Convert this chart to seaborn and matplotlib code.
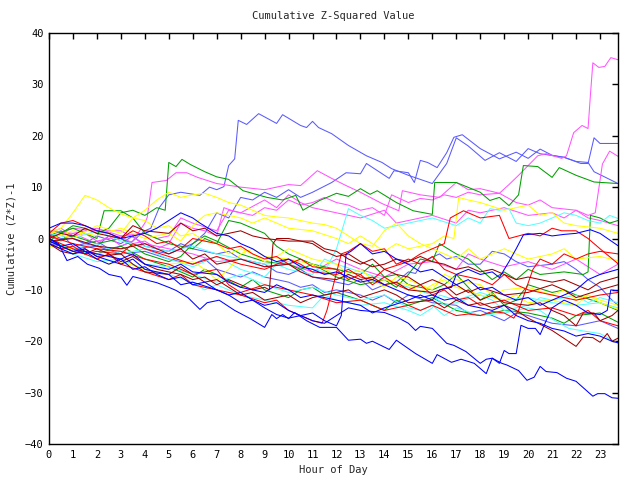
import matplotlib
matplotlib.use("Agg")
import matplotlib.pyplot as plt
import seaborn as sns
import pandas as pd

# ---- data: each series is a list of (hour, cumulative value) points ----
L1 = [(0,0),(0.5,1),(1,-1.5),(1.5,-1),(2,-0.5),(2.5,-2),(3,-1.5),(3.5,-0.5),(4,1.5),(4.25,2),(4.6,6),(5,8.5),(5.5,9),(6.3,8.4),(6.7,10),(7,9.5),(7.3,10.1),(7.5,14.2),(7.75,15.5),(7.9,23),(8.25,22.2),(8.75,24.3),(9.5,22.4),(9.75,24.1),(10.5,22),(10.75,21.6),(11,22.8),(11.25,21.6),(11.8,20.4),(12.5,18.1),(13.25,16.1),(13.9,14.8),(14.3,13.6),(15,12.3),(16,10.7),(16.6,14.6),(17,19.6),(17.5,18),(18.2,15.2),(18.8,16.7),(19.5,15),(20,17.5),(20.5,16.5),(21.5,15.8),(22,15),(22.5,14.8),(22.75,13),(23.75,10.7)]
L2 = [(0,1),(0.5,0),(1,0),(1.5,-1),(2,-1.5),(2.5,0.5),(3,0),(3.5,-1),(4,-2),(5,-3),(5.5,-2),(6,-1),(6.5,1),(7,5),(7.5,4),(8,8),(8.5,7.5),(9,9),(9.5,8),(10,9.5),(10.5,8),(11,9),(11.8,10.9),(12.4,12.8),(13,12.6),(13.25,14.6),(14.2,11.7),(14.4,13.2),(15,12.8),(15.25,10.9),(15.5,15.2),(15.8,14.8),(16.2,13.8),(16.6,16.7),(16.9,19.7),(17.25,20.2),(18,17.5),(18.8,15.5),(19.5,16.8),(20,15.6),(20.5,17.4),(21,16.2),(21.5,15.8),(22.2,14.6),(22.5,14.6),(22.75,19.6),(23,18.5),(23.75,18.5)]
L3 = [(0,0.5),(0.5,1.5),(1,0),(1.5,-1),(2,0.5),(3,-1),(3.5,0.5),(4,-1.5),(5,-2.5),(5.5,-1),(6,-2),(7,-3),(7.5,-2.5),(8,-4),(9,-5),(9.5,-6.5),(10,-7),(10.5,-6),(11,-7.5),(12,-8.5),(12.5,-9),(13,-8),(13.5,-10),(14,-9),(14.5,-8.5),(15,-6.5),(15.3,-6.8),(15.6,-4.5),(16.3,-3),(16.6,-4),(17,-3.5),(17.5,-5),(18,-5),(18.5,-2.5),(19,-3),(19.5,-4.5),(20,-5.5),(21,-5),(21.5,-4.5),(22,-6),(22.5,-8),(23,-9.5),(23.5,-12),(23.75,-13)]
L4 = [(0,-1),(1,-2),(2,-1.5),(3,-3),(4,-2.5),(5,-4),(6,-5),(6.5,-4),(7,-6),(8,-7.5),(8.5,-6.5),(9,-7.5),(10,-8.5),(10.5,-9.5),(11,-9),(11.5,-10.5),(12,-10),(13,-11),(13.5,-12),(14,-11),(14.5,-12.5),(15,-11),(16,-12.5),(17,-13),(17.5,-14.5),(18,-14),(18.5,-15),(19,-16),(19.5,-14.5),(20,-15),(21,-16.5),(22,-17),(23,-16),(23.75,-17.5)]

M1 = [(0,1),(0.5,2),(1,0.5),(1.5,1),(2,-0.5),(3,0.5),(3.5,-1),(4,-0.5),(4.5,-2),(5,-1),(5.5,3),(6,2),(6.5,1.5),(7,0.5),(7.3,6),(7.6,5.5),(8,5),(8.5,4.5),(9,6),(9.5,5.5),(10,7.5),(10.5,6.5),(11,7),(11.5,8),(12,7),(12.5,6.5),(13,5.5),(13.5,6),(14,4.5),(14.3,8.5),(15,7),(15.5,7.8),(16,7.5),(16.5,8.5),(17,8),(17.5,9),(18,8.5),(18.8,8.8),(19.2,10.5),(19.6,12.3),(20,14.2),(20.4,16.1),(20.75,16.5),(21.4,15.6),(21.6,16.1),(21.9,20.6),(22.25,22),(22.5,21.4),(22.6,28),(22.7,34.2),(22.95,33.3),(23.2,33.5),(23.45,35.2),(23.75,34.8)]
M2 = [(0,1.5),(1,1),(2,2),(3,0.5),(4,1),(4.5,0),(5,0.5),(5.5,4),(6,3),(7,1.5),(7.5,5.5),(8,5),(9,7.5),(9.5,6),(10,8.5),(10.5,7),(11,6),(12,5),(13,4),(14,5.5),(14.5,3),(15,3.5),(16,4.5),(17,3),(17.5,5.5),(18,5),(19,6),(20,4.5),(21,5),(21.5,4),(22,5.5),(22.5,4.5),(22.8,5),(23.1,14.5),(23.4,17),(23.75,16)]
M3 = [(0,0.5),(0.5,-0.5),(1,1),(1.5,0),(2,-1),(2.5,0.5),(3,-1.5),(3.5,-0.5),(4,3),(4.1,4.1),(4.3,10.9),(4.9,11.3),(5.3,12.8),(5.75,12.8),(6.2,11.9),(7,10.7),(8,10),(9,9.5),(10,10.5),(10.5,10.3),(11.2,13.2),(11.8,11.7),(12.4,10.3),(13,9),(13.9,6.8),(14.6,5.4),(14.75,9.3),(15.5,8.5),(16.3,8),(17,10.9),(17.5,9.5),(18,9.7),(18.8,8.8),(19.5,7),(20,6.5),(20.5,7.5),(21,6),(22,5.5),(22.5,4),(23,3.5),(23.75,2.5)]
M4 = [(0,0),(1,2),(2,1.5),(3,1.5),(4,-1),(5,-2),(6,-3),(7,-4.5),(8,-4),(9,-5.5),(10,-5),(11,-6.5),(12,-4),(13,-6),(14,-7.5),(15,-5),(16,-4.5),(17,-6),(17.5,-3),(18,-4),(19,-5.5),(20,-4.5),(21,-6),(22,-4),(23,-7),(23.75,-5)]

G1 = [(0,-0.5),(0.5,1),(1,2.5),(1.5,2),(2,1),(2.5,2),(3,5),(3.5,5.5),(4,4.5),(4.5,6),(4.85,5.5),(5,14.8),(5.3,14),(5.55,15.4),(5.9,14.4),(6.5,13),(7,12),(7.5,11.5),(8.1,9.3),(9.1,8),(9.75,7.5),(10.3,8.4),(10.6,5.5),(11.3,7.4),(12,8.8),(12.5,8.2),(13,9.7),(13.4,8.6),(13.7,9.3),(14.5,7),(15.2,5.4),(16,4.7),(16.1,10.9),(17,10.9),(18,9),(18.4,7.4),(18.8,8),(19.2,6.4),(19.6,8.5),(19.8,14.2),(20.4,14),(21,11.9),(21.3,13.8),(22,12.3),(22.75,11),(23.75,10.7)]
G3 = [(0,-1),(1,0.5),(2,-1),(3,0),(4,-3),(5,-4.5),(5.5,-3.5),(6,-1),(6.5,0.5),(7,-0.5),(8,-3),(9,-4.5),(10,-5),(10.5,-6),(11,-5),(12,-7.5),(13,-9),(14,-8),(14.5,-9.5),(15,-7),(15.5,-4),(16,-4.5),(16.3,-1),(17,-3),(17.5,-4),(18,-6),(18.5,-8),(19,-6.5),(19.5,-8),(20,-6),(20.5,-7),(21.5,-6.5),(22.3,-7),(22.5,-6.5),(22.6,4.5),(23,4),(23.4,3),(23.75,3.5)]
G4 = [(0,0),(0.5,-1.5),(1,-2),(2,-3),(3,-1.5),(4,-4),(5,-5.5),(6,-7.5),(6.5,-6),(7,-7),(8,-9.5),(8.5,-8),(9,-10),(10,-11.5),(10.5,-10),(11,-9.5),(11.5,-11),(12,-10.5),(13,-12),(14,-14),(14.5,-12),(15,-13),(16,-11.5),(17,-14),(18,-15),(19,-14),(20,-14.5),(21,-15.5),(21.5,-16.5),(22,-15),(23,-14.5),(23.75,-16.3)]
G5 = [(0,0.5),(1,2),(2,0),(2.3,5.4),(3,5.4),(3.5,4),(4,1),(5,-1),(6,-2),(6.5,0),(7,-1),(7.5,3.5),(8,3),(9,1),(9.5,-1.5),(10,-3),(11,-5),(12,-6),(13,-7),(13.5,-5),(14,-7.5),(14.5,-7),(15,-9),(16,-10),(16.5,-9),(17,-7),(17.5,-9.5),(18,-12),(18.5,-10.5),(19,-13),(19.5,-12),(20,-9),(21,-10.5),(21.5,-10),(22,-11),(23,-12.5),(23.75,-14)]

C1 = [(0,1),(1,0),(2,1.5),(3,-0.5),(4,-1.5),(5,-2.5),(6,-1.5),(7,-3),(8,-4),(9,-5),(10,-4.5),(11,-6),(11.5,-6.5),(12,-2),(12.5,5.8),(13,4.5),(13.5,3.5),(14,2),(14.5,2.5),(15,3),(15.5,3.5),(16,4),(17,2.5),(17.5,4),(18,3),(18.4,5.8),(18.8,5.5),(19.2,5.8),(19.5,3),(20,2.5),(20.5,3),(21,4),(21.5,5),(22,4.5),(22.5,3.5),(23,3),(23.4,4.5),(23.75,3.9)]
C2 = [(0,-0.5),(1,-2),(2,-1),(3,-3),(4,-2),(5,-4),(6,-5.5),(7,-3.5),(8,-6),(9,-7.5),(9.5,-5),(10,-6),(11,-7),(11.5,-4),(12,-5),(13,-6.5),(14,-8),(15,-9.5),(16,-11),(16.5,-13),(17,-12.5),(18,-11),(18.5,-12),(19,-14),(20,-13),(20.5,-11.5),(21,-12),(22,-11),(22.5,-12.5),(23,-11.5),(23.75,-12.5)]
C3 = [(0,0),(1,-2.5),(2,-3),(3,-2),(4,-5),(5,-5.5),(6,-7),(7,-8.5),(8,-7),(9,-9),(10,-10.5),(11,-9.5),(12,-11),(13,-12),(14,-11),(15,-13.5),(15.5,-14),(16,-13),(16.5,-15),(17,-13.5),(18,-15),(19,-14.5),(20,-13.5),(20.5,-14),(21,-15.7),(21.7,-17.5),(22.3,-18),(23,-18.5),(23.75,-20.4)]
C4 = [(0,-1),(1,-3),(2,-4.5),(3,-4),(4,-6),(4.5,-6.5),(5,-7),(6,-8.5),(6.5,-10),(7,-9),(8,-11),(9,-12),(10,-13),(11,-13.5),(11.5,-11),(12,-12),(13,-13),(14,-12.5),(15,-14),(15.5,-15),(16,-13.5),(16.3,-11),(17,-12),(18,-10.5),(19,-12),(20,-11.5),(21,-12.5),(22,-13),(23,-12.5),(23.75,-13.5)]

Y1 = [(0,1),(0.5,2),(1,5),(1.5,8.4),(2,7.5),(2.5,6),(3,4.8),(3.5,4),(4,3.5),(4.5,2),(5,2.5),(5.5,0.5),(6,1),(6.5,-0.5),(7,-1),(7.5,-3),(8,-2),(8.5,-3),(9,-4.5),(9.5,-3.5),(10,-2),(11,-4),(12,-5),(12.5,-7),(13,-6),(13.5,-8),(14,-9.5),(14.5,-7.5),(15,-8),(16,-10),(16.5,-7),(17,-8),(18,-9),(18.5,-11),(19,-10),(20,-9.5),(21,-11),(21.5,-10),(22,-12),(22.5,-11),(23,-12),(23.75,-13)]
Y2 = [(0,0),(1,1.5),(2,0.5),(3,2),(4,0),(5,1),(5.5,-0.5),(6,2.5),(6.5,4.5),(7,5),(8,4),(8.5,3),(9,4),(10,2),(11,1.5),(12,0),(12.5,-1),(13,0.5),(13.5,-1),(14,-2.5),(14.5,-1),(15,-2),(16,-1),(16.5,0.5),(16.9,0),(17.1,8),(17.5,7.5),(18,7),(19,5.5),(20,6.5),(20.5,4.5),(21,5),(21.5,3),(22,2.5),(23,2),(23.75,1)]
Y3 = [(0,1.5),(1,0),(2,2.5),(3,1),(3.5,4),(4,5.5),(4.5,7.5),(5,9),(5.5,8),(6,8.5),(6.5,8.8),(7,8),(7.5,7),(8,6.5),(8.5,5.5),(9,4.5),(9.5,4.2),(10,4),(10.5,3.5),(11,3),(11.5,2.7),(12,2),(12.5,0.5),(13,-1),(13.5,-1.5),(14,1.5),(14.5,3),(15,0.5),(15.5,-1),(16,-2),(16.5,-3),(17,-4),(17.5,-2),(18,-4),(19,-2),(19.5,-3),(20,-4),(21,-3),(21.5,-2),(22,-4),(23,-3.5),(23.75,-4.3)]
Y4 = [(0,-1.5),(1,-2),(2,-4),(2.5,-5),(3,-4.5),(4,-6),(4.5,-7),(5,-5),(6,-4.5),(6.5,-6),(7,-8),(7.5,-6),(8,-3),(8.5,-2),(9,-3.5),(10,-4),(11,-5),(11.5,-6),(12,-7),(13,-8.5),(14,-8),(15,-9),(15.5,-10.5),(16,-9),(16.5,-8),(17,-9.5),(18,-11),(19,-12),(19.5,-11),(20,-12.5),(21,-12),(22,-13),(22.5,-11),(23,-12.5),(23.75,-13.8)]

R1 = [(0,-1),(0.5,-2),(1,-1.5),(1.5,-3),(2,-2.5),(3,-3),(3.5,-1),(4,-2),(5,-3.5),(6,-5),(7,-3.5),(8,-5),(9,-6),(10,-4),(10.5,-5),(11,-6.5),(12,-7),(12.5,-6),(13,-7.5),(13.5,-8),(14,-6),(15,-4.5),(15.5,-3),(16,-2),(16.5,-1),(16.75,4),(17.3,5.4),(18,4),(18.8,4.5),(19.2,0),(20,1),(20.5,0.5),(21,2),(21.4,1.5),(22,1.5),(22.5,0),(23,-2),(23.75,-4.9)]
R2 = [(0,0),(0.5,-1),(1,-2),(2,-4),(2.5,-3),(3,-5),(4,-6.5),(5,-8),(5.5,-7),(6,-9),(7,-10),(8,-11),(9,-12.5),(9.5,-12),(10,-14),(10.5,-15),(11,-16),(11.4,-16.5),(11.6,-14),(12.2,-3),(12.5,-2.5),(13,-1),(13.5,-2.5),(14,-2),(14.5,-5),(15,-4),(15.5,-5),(16,-3.5),(16.5,-6),(17,-7),(18,-8),(18.5,-9),(19,-7),(19.5,-9),(20,-10),(21,-11),(22,-12),(23,-11),(23.75,-10.5)]
R3 = [(0,0.5),(1,-1),(2,-2),(3,-2.5),(4,-4),(5,-5),(6,-7),(7,-6),(7.5,-9),(8,-10.5),(9,-9),(10,-10),(11,-11),(12,-12.5),(13,-12),(14,-14),(15,-13),(15.5,-14),(16,-13),(16.5,-14),(17,-15),(17.5,-14.7),(18,-15),(18.5,-14.2),(19,-14.5),(19.4,-15.5),(19.6,-14),(20.2,-6),(20.5,-4),(21,-5),(21.5,-3),(22,-4),(22.5,-3),(23,-2.5),(23.75,-3)]
R4 = [(0,1),(0.5,3),(1,3.5),(1.5,2.5),(2,1.5),(2.5,1),(3,0),(3.5,1.5),(4,0.5),(4.5,-1),(5,-0.5),(5.5,-2),(6,0),(7,-1),(7.5,-2),(8,-1.5),(8.5,-3),(9,-4),(9.5,-3.5),(10,-5),(10.5,-4),(11,-5.5),(12,-6),(12.5,-8),(13,-7),(13.5,-9),(14,-7.5),(14.5,-9),(15,-10),(15.5,-9),(16,-11),(16.5,-10),(17,-12),(17.5,-11.5),(18,-13),(19,-12),(20,-14),(21,-13.5),(22,-15),(22.5,-14),(23,-16),(23.75,-17)]

D1 = [(0,-0.5),(0.5,-1.5),(1,-2.5),(1.5,-3),(2,-2),(2.5,-3),(3,-4.5),(3.5,-3.5),(4,-5),(4.5,-6),(5,-6.5),(5.5,-7),(6,-8),(6.5,-7.5),(7,-9),(7.5,-8),(8,-9),(8.5,-10),(9,-9.5),(9.2,-10),(9.35,-1),(9.5,0),(10,0),(10.5,-0.5),(11,-0.5),(11.5,-2),(12,-2.5),(12.5,-4),(13,-5),(13.5,-4),(14,-6),(14.5,-7),(15,-7.5),(15.5,-9),(16,-8),(16.5,-9),(17,-11),(17.5,-10),(18,-12),(18.5,-11),(19,-12.5),(20,-13),(20.5,-12.5),(21,-14),(21.5,-15),(22,-17),(22.3,-14.5),(22.75,-14.5),(23,-16),(23.5,-15),(23.75,-14)]
D2 = [(0,-1),(0.5,-2.5),(1,-3),(1.5,-2),(2,-3.5),(3,-3),(3.5,-5),(4,-6.5),(5,-7),(5.5,-5.5),(6,-7),(6.5,-8.5),(7,-8),(7.5,-9.5),(8,-11),(8.5,-10.5),(9,-12),(10,-11),(10.5,-12.5),(11,-11.5),(12,-10.5),(12.5,-10),(13,-11.5),(14,-10),(14.5,-11),(15,-12.5),(16,-12),(16.5,-13.5),(17,-12),(17.5,-13),(18,-12.5),(18.5,-13.5),(19,-13),(19.5,-14),(20,-15.5),(21,-17.9),(22,-21),(22.3,-19.2),(22.7,-19.3),(23,-20.2),(23.3,-18.5),(23.5,-20),(23.75,-19.4)]
D3 = [(0,0),(0.5,1),(1,0.5),(1.5,2),(2,1),(3,0),(3.5,2.5),(4,1.5),(5,1),(5.5,3),(6,1.5),(6.5,2),(7,0.5),(7.5,1),(8,1.5),(8.5,0.5),(9,0),(10,-0.5),(10.5,-0.5),(11,-1),(11.5,-2.5),(12,-3.5),(12.5,-3),(13,-4.5),(13.5,-5.5),(14,-5),(14.5,-4),(15,-4.5),(15.5,-3.5),(16,-4.5),(16.5,-5),(17,-6),(17.5,-5.5),(18,-6.5),(18.5,-6),(19,-7),(19.5,-8),(20,-7.5),(21,-8.5),(21.5,-8),(22,-9),(22.5,-10),(23,-8.5),(23.75,-7.5)]
D4 = [(0,-0.5),(1,0),(2,-1.5),(3,-2),(4,-1),(5,-3),(5.5,-2),(6,-4),(6.5,-3),(7,-5),(8,-4),(9,-5.5),(10,-5),(10.5,-6.5),(11,-7.5),(12,-8),(12.5,-7),(13,-8),(13.5,-7.5),(14,-9),(14.5,-8.5),(15,-10),(16,-10.5),(17,-9),(17.5,-10.5),(18,-9.5),(19,-11),(20,-10.5),(21,-9),(21.5,-10),(22,-11.5),(23,-10),(23.75,-9)]

B1 = [(0,0),(0.4,-1),(0.75,-4.3),(1.2,-3.5),(1.6,-5),(2.1,-5.8),(2.5,-7),(3,-7.5),(3.25,-9.1),(3.5,-7.4),(4,-8),(4.5,-8.6),(5,-9.5),(5.3,-10.1),(5.8,-11.5),(6.3,-13.8),(6.6,-12.5),(7.1,-12),(7.75,-14),(8.4,-15.6),(9,-17.3),(9.3,-14.8),(9.5,-15.6),(9.75,-14.8),(10,-15.6),(10.25,-14.4),(10.75,-16),(11.3,-17.3),(12,-17.3),(12.5,-19.8),(13,-19.6),(13.25,-20.4),(13.5,-20),(14.2,-21.6),(14.5,-19.8),(15.3,-22.4),(16,-24.3),(16.2,-22.6),(16.8,-24.1),(17.2,-23.5),(17.75,-24.3),(18.25,-26.3),(18.5,-23.3),(18.9,-24.3),(19.1,-24.6),(19.6,-25.7),(19.95,-27.6),(20.25,-27),(20.5,-24.9),(20.75,-25.9),(21.2,-26.1),(21.6,-27.2),(22,-27.8),(22.7,-30.7),(22.9,-30.2),(23.2,-30.2),(23.5,-31),(23.75,-31.1)]
B2 = [(0,-1),(0.5,-2),(1,-3),(1.5,-2.5),(2,-4),(2.5,-5),(3,-4),(3.5,-6),(4,-5.5),(4.5,-7),(5,-8),(5.5,-7.5),(6,-9),(6.5,-8.5),(7,-10),(7.5,-11),(8,-10.5),(8.5,-12),(9,-13),(9.5,-12.5),(10,-14),(10.5,-15),(11,-14.5),(11.5,-16),(12,-17),(12.2,-15),(12.4,-3),(12.6,-2.5),(13,-1),(13.5,-3),(14,-2.5),(14.5,-4),(15,-5),(15.5,-6.5),(16,-6),(16.5,-7.5),(17,-9),(17.5,-8),(18,-10),(18.5,-9.5),(19,-11),(19.5,-12),(20,-11.5),(20.5,-13),(21,-12),(21.5,-11),(22,-10),(22.5,-8),(23,-7),(23.75,-6)]
B3 = [(0,2),(0.5,3),(1,3),(1.5,2.5),(2,1.5),(2.5,1),(3,0),(3.5,0.5),(4,1),(4.5,2),(5,3.5),(5.5,5),(6,4),(6.3,3),(7,1),(7.5,0.5),(8,-1),(8.5,-2),(9,-3.5),(9.5,-4.5),(10,-4),(10.5,-5.5),(11,-6),(11.5,-7),(12,-6.5),(12.5,-7.5),(13,-8.5),(13.5,-8),(14,-9),(14.5,-10),(15,-11),(15.5,-11.5),(16,-11),(16.5,-12),(17,-11.5),(17.5,-13),(18,-13.5),(18.5,-14),(19,-13),(19.5,-15),(20,-16),(20.5,-16.5),(21,-17.5),(21.5,-18),(22,-19),(22.5,-18.5),(23,-19),(23.5,-20),(23.75,-20.3)]
B4 = [(0,-0.5),(0.5,-1.5),(1,-1),(1.5,-2.5),(2,-3),(3,-4),(3.5,-3),(4,-5),(5,-6),(5.5,-5),(6,-6.5),(7,-7),(7.5,-8.5),(8,-9.5),(9,-10.5),(9.5,-9),(10,-10),(10.5,-11.5),(11,-11),(12,-12),(13,-13),(13.5,-14.5),(14,-13.5),(15,-12),(15.5,-11),(16,-12),(16.3,-10),(16.8,-9.5),(17,-7),(17.5,-6),(18,-7),(18.5,-6.5),(18.8,-7.6),(19.2,-4.5),(19.5,-2),(19.8,0.7),(20.5,1),(21,0.5),(21.5,0.8),(22,1),(22.6,1.7),(23,1),(23.75,-1.4)]
B5 = [(0,0),(0.5,-1.5),(1,-2.5),(1.5,-2),(2,-3.5),(3,-5),(3.5,-4),(4,-6),(5,-7),(5.5,-9),(6,-8.5),(7,-10),(7.5,-11),(8,-12.5),(8.5,-12),(9,-13.5),(9.5,-14.8),(10,-15.5),(10.5,-15),(11,-16),(11.5,-16.5),(12,-15),(12.5,-13.5),(13,-14),(14,-14.4),(14.6,-15.5),(15,-16.5),(15.3,-17.9),(15.5,-17.1),(16,-17.5),(16.6,-20.4),(16.9,-20.8),(17.4,-22),(18,-24.3),(18.25,-23.5),(18.5,-23.3),(18.8,-24.3),(19,-21.8),(19.2,-22.4),(19.5,-22.4),(19.7,-16.9),(20,-17.5),(20.3,-17.5),(20.5,-18.7),(20.75,-16),(21,-13.5),(21.5,-12),(22,-13),(22.5,-14.5),(23,-14.8),(23.3,-14),(23.45,-10),(23.75,-10.2)]

SERIES = {
    "L1": L1, "L2": L2, "L3": L3, "L4": L4,
    "M1": M1, "M2": M2, "M3": M3, "M4": M4,
    "G1": G1, "G3": G3, "G4": G4, "G5": G5,
    "C1": C1, "C2": C2, "C3": C3, "C4": C4,
    "Y1": Y1, "Y2": Y2, "Y3": Y3, "Y4": Y4,
    "R1": R1, "R2": R2, "R3": R3, "R4": R4,
    "D1": D1, "D2": D2, "D3": D3, "D4": D4,
    "B1": B1, "B2": B2, "B3": B3, "B4": B4, "B5": B5,
}
COLOR_BY_PREFIX = {"L": "#5a5aff", "M": "#ff55ff", "G": "#00a000", "C": "#55ffff",
                   "Y": "#ffff00", "R": "#ff0000", "D": "#a00000", "B": "#0000ff"}

X_TICKS = list(range(0, 24))
Y_TICKS = list(range(-40, 41, 10))
TITLE = "Cumulative Z-Squared Value"
X_LABEL = "Hour of Day"
Y_LABEL = "Cumulative (Z*Z)-1"

rows = []
for name, pts in SERIES.items():
    for i, (h, v) in enumerate(pts):
        rows.append({"series": name, "order": i, "hour": h, "value": v})
df = pd.DataFrame(rows)
palette = {name: COLOR_BY_PREFIX[name[0]] for name in SERIES}

sns.set_theme(style="white")
plt.rcParams["font.family"] = ["DejaVu Sans Mono"]

fig = plt.figure(figsize=(6.4, 4.8), dpi=100)
ax = fig.add_axes([49/640, 36/480, (618-49)/640, (444-33)/480])
sns.lineplot(data=df, x="hour", y="value", hue="series", units="series",
             estimator=None, sort=False, palette=palette, legend=False,
             linewidth=0.75, ax=ax)

ax.set_xlim(0, 23.75)
ax.set_ylim(-40, 40)
ax.set_xticks(X_TICKS)
ax.set_yticks(Y_TICKS)
ax.tick_params(direction="in", length=4, width=1, top=True, right=True,
               labelsize=7.5, colors="black", pad=4)
for s in ax.spines.values():
    s.set_visible(True)
    s.set_color("black")
    s.set_linewidth(1)
ax.set_facecolor("white")
ax.set_title(TITLE, fontsize=7.5, pad=10)
ax.set_xlabel(X_LABEL, fontsize=7.5, labelpad=4)
ax.set_ylabel(Y_LABEL, fontsize=7.5, labelpad=6)
ax.grid(False)

fig.savefig("out.png", dpi=100, facecolor="white")
